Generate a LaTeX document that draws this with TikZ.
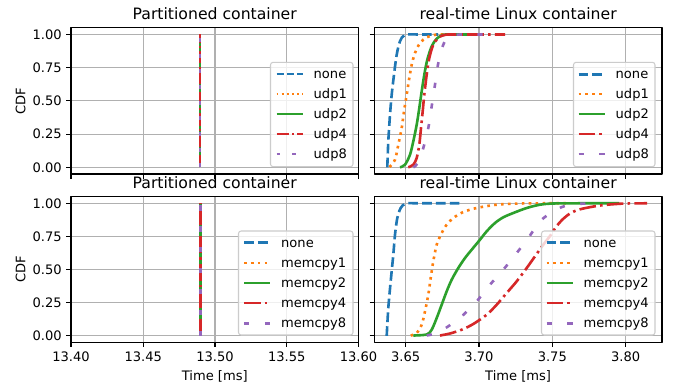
\documentclass[tikz,border=0pt]{standalone}
\usepackage{fontspec}
\setmainfont{DejaVu Sans}
\definecolor{cblue}{HTML}{1F77B4}
\definecolor{corange}{HTML}{FF7F0E}
\definecolor{cgreen}{HTML}{2CA02C}
\definecolor{cred}{HTML}{D62728}
\definecolor{cpurple}{HTML}{9467BD}
\definecolor{gridgray}{HTML}{B0B0B0}
\definecolor{legedge}{HTML}{CCCCCC}
\begin{document}
\begin{tikzpicture}[x=1pt,y=-1pt,line join=round,
  spine/.style={draw=black,line width=1.04pt},
  gridline/.style={draw=gridgray,line width=1.04pt},
  tickmark/.style={draw=black,line width=1.04pt},
  ticklabel/.style={font=\fontsize{13.06}{15}\selectfont,inner sep=0pt},
  axlabel/.style={font=\fontsize{13.06}{15}\selectfont,inner sep=0pt},
  paneltitle/.style={font=\fontsize{15.67}{18}\selectfont,inner sep=0pt,anchor=base},
  legframe/.style={draw=legedge,fill=white,fill opacity=0.8,line width=1.04pt,rounded corners=2.6pt},
  legtext/.style={font=\fontsize{13.06}{15}\selectfont,inner sep=0pt,anchor=base west},
  % thin series (upper left panel)
  nonethin/.style={cblue,line width=1.96pt,dash pattern=on 7.25pt off 3.13pt},
  onethin/.style={corange,line width=1.96pt,dash pattern=on 1.96pt off 3.23pt},
  twothin/.style={cgreen,line width=1.96pt},
  fourthin/.style={cred,line width=1.96pt,dash pattern=on 12.54pt off 3.13pt on 1.96pt off 3.13pt},
  eightthin/.style={cpurple,line width=1.96pt,dash pattern=on 3.92pt off 11.76pt},
  % thick series (other panels)
  nonethick/.style={cblue,line width=2.61pt,dash pattern=on 9.66pt off 4.18pt},
  onethick/.style={corange,line width=2.61pt,dash pattern=on 2.61pt off 4.31pt},
  twothick/.style={cgreen,line width=2.61pt},
  fourthick/.style={cred,line width=2.61pt,dash pattern=on 16.7pt off 4.18pt on 2.61pt off 4.18pt},
  eightthick/.style={cpurple,line width=2.61pt,dash pattern=on 5.22pt off 15.66pt}]

\useasboundingbox (0,0) rectangle (678,385);
\fill[white] (0,0) rectangle (678,385);

% ---------------- grids ----------------
% left column: x = 13.40 ... 13.60
\foreach \gx in {71,143.3,215,286.7,358.5}{
  \draw[gridline] (\gx,27.8) -- (\gx,174);
  \draw[gridline] (\gx,196.7) -- (\gx,342.3);
}
% right column: x = 3.65 ... 3.80
\foreach \gx in {405.7,479,552.3,625.7}{
  \draw[gridline] (\gx,27.8) -- (\gx,174);
  \draw[gridline] (\gx,196.7) -- (\gx,342.3);
}
% CDF levels 0, 0.25, ..., 1
\foreach \f in {0,0.25,0.5,0.75,1}{
  \draw[gridline] (71,{167.3-132.8*\f}) -- (358.5,{167.3-132.8*\f});
  \draw[gridline] (374.3,{167.3-132.8*\f}) -- (662,{167.3-132.8*\f});
  \draw[gridline] (71,{335.9-132.6*\f}) -- (358.5,{335.9-132.6*\f});
  \draw[gridline] (374.3,{335.9-132.6*\f}) -- (662,{335.9-132.6*\f});
}

% ---------------- partitioned container: all series coincide ----------------
\foreach \st in {nonethin,onethin,twothin,fourthin,eightthin}
  \draw[\st] (200.4,167.3) -- (200.4,34.5);
\foreach \st in {nonethick,onethick,twothick,fourthick,eightthick}
  \draw[\st] (200.4,335.9) -- (200.4,203.3);

% ---------------- real-time Linux container, udp load ----------------
\draw[nonethick] plot[smooth,tension=0.5] coordinates {(387.3,167.3) (388.3,141.3) (390,114.7) (391.7,94.7) (394,74.7) (396.7,54.7) (400,41.3) (405,34.9) (420,34.5) (438,34.5)};
\draw[onethick] plot[smooth,tension=0.5] coordinates {(389.5,167) (395,159.7) (398.3,144.7) (401.7,128) (404,111.3) (406.7,94.7) (409.3,78) (411.7,64.7) (415,53) (420,43) (426.7,37.3) (435,34.8) (445,34.5) (458,34.5)};
\draw[twothick] plot[smooth,tension=0.5] coordinates {(400,167.3) (405,164.7) (410,154.7) (413.3,141.3) (416.7,124.7) (419.3,108) (421.7,91.3) (424.3,74.7) (427.3,59.7) (431.7,46.3) (436.7,38.7) (443.3,34.8) (455,34.5) (470,34.5)};
\draw[fourthick] plot[smooth,tension=0.5] coordinates {(408.3,167.3) (413.3,164.7) (416.7,158) (419.3,144.7) (421,128) (422.7,111.3) (424.3,94.7) (426.7,74.7) (429.3,58) (433.3,44.7) (438.3,38) (445,34.8) (460,34.5) (505,34.5)};
\draw[eightthick] plot[smooth,tension=0.5] coordinates {(413.3,167.3) (418,163) (423.3,148) (428.3,128) (431.7,106.3) (435,84.7) (438.3,63) (443.3,44.7) (448.3,36.3) (453.3,34.8) (465,34.5) (483,34.5)};

% ---------------- real-time Linux container, memcpy load ----------------
\draw[nonethick] plot[smooth,tension=0.5] coordinates {(386.7,335.9) (388.3,308) (390.7,281.3) (393.3,254.7) (395,234.7) (397.3,218) (400.7,208) (406,203.5) (420,203.3) (461.7,203.3)};
\draw[onethick] plot[smooth,tension=0.5] coordinates {(410.7,335.5) (416.7,333) (421.7,324.7) (425,311.3) (428.3,294.7) (430.7,278) (433.3,261.3) (436.7,244.7) (441.7,233) (446.7,224.7) (453.3,218) (463.3,212) (476.7,208) (496.7,204.7) (520,203.5) (545,203.3) (570,203.3)};
\draw[twothick] plot[smooth,tension=0.5] coordinates {(413.3,335.5) (426.7,334.5) (431.7,329.7) (436.7,318) (441.7,304.7) (446.7,291.3) (451.7,279.7) (458.3,268) (465,258) (471.7,249.7) (480,239.7) (486.7,231.3) (495,223) (503.3,217.3) (513.3,213) (526.7,208) (540,204.7) (553.3,203.5) (580,203.3) (619,203.3)};
\draw[fourthick] plot[smooth,tension=0.5] coordinates {(440,335.5) (450,333.5) (461.7,329.7) (473.3,324) (486.7,314.7) (496.7,304.7) (506.7,293) (516.7,281.3) (526.7,268) (535,256.3) (543.3,244.7) (550,236) (556,227) (562,220) (570,213.5) (580,209.3) (600,205.5) (623,203.6) (647,203.3)};
\draw[eightthick] plot[smooth,tension=0.5] coordinates {(426.7,335.5) (437,333) (448.3,326.3) (461.7,316.3) (476.7,301.3) (490,284.7) (503.3,269.7) (516.7,253) (528.3,238) (540,221.3) (553.3,211.3) (565,206) (580,203.8) (600,203.3)};

% ---------------- legends ----------------
\draw[legframe] (270.5,62.3) rectangle (353,166.7);
\foreach \st/\lab [count=\i from 0] in {nonethin/none,onethin/udp1,twothin/udp2,fourthin/udp4,eightthin/udp8}{
  \draw[\st] (276.5,{74.2+19.95*\i}) -- (302.5,{74.2+19.95*\i});
  \node[legtext] (legtl\i) at (313.5,{78.6+19.95*\i}) {\lab};
}
\draw[legframe] (573.5,62.3) rectangle (655,166.7);
\foreach \st/\lab [count=\i from 0] in {nonethick/none,onethick/udp1,twothick/udp2,fourthick/udp4,eightthick/udp8}{
  \draw[\st] (578.5,{74.2+19.95*\i}) -- (604.5,{74.2+19.95*\i});
  \node[legtext] (legtr\i) at (615.5,{78.6+19.95*\i}) {\lab};
}
\draw[legframe] (238.5,231) rectangle (353,335);
\foreach \st/\lab [count=\i from 0] in {nonethick/none,onethick/memcpy1,twothick/memcpy2,fourthick/memcpy4,eightthick/memcpy8}{
  \draw[\st] (244,{242.7+20.15*\i}) -- (270,{242.7+20.15*\i});
  \node[legtext] (legbl\i) at (281,{247.1+20.15*\i}) {\lab};
}
\draw[legframe] (541.5,231) rectangle (655,335);
\foreach \st/\lab [count=\i from 0] in {nonethick/none,onethick/memcpy1,twothick/memcpy2,fourthick/memcpy4,eightthick/memcpy8}{
  \draw[\st] (546.5,{242.7+20.15*\i}) -- (572.5,{242.7+20.15*\i});
  \node[legtext] (legbr\i) at (583.5,{247.1+20.15*\i}) {\lab};
}

% ---------------- spines ----------------
\draw[spine] (71,27.8) rectangle (358.5,174);
\draw[spine] (374.3,27.8) rectangle (662,174);
\draw[spine] (71,196.7) rectangle (358.5,342.3);
\draw[spine] (374.3,196.7) rectangle (662,342.3);

% ---------------- ticks ----------------
\foreach \f/\t in {0/0.00,0.25/0.25,0.5/0.50,0.75/0.75,1/1.00}{
  \draw[tickmark] (66.4,{167.3-132.8*\f}) -- (71,{167.3-132.8*\f});
  \draw[tickmark] (369.7,{167.3-132.8*\f}) -- (374.3,{167.3-132.8*\f});
  \draw[tickmark] (66.4,{335.9-132.6*\f}) -- (71,{335.9-132.6*\f});
  \draw[tickmark] (369.7,{335.9-132.6*\f}) -- (374.3,{335.9-132.6*\f});
  \node[ticklabel,anchor=east] (ytop\t) at (61.9,{167.3-132.8*\f}) {\t};
  \node[ticklabel,anchor=east] (ybot\t) at (61.9,{335.9-132.6*\f}) {\t};
}
\foreach \gx/\t in {71/13.40,143.3/13.45,215/13.50,286.7/13.55,358.5/13.60}{
  \draw[tickmark] (\gx,174) -- (\gx,178.6);
  \draw[tickmark] (\gx,342.3) -- (\gx,346.9);
  \node[ticklabel,anchor=north] (xl\t) at (\gx,351.9) {\t};
}
\foreach \gx/\t in {405.7/3.65,479/3.70,552.3/3.75,625.7/3.80}{
  \draw[tickmark] (\gx,174) -- (\gx,178.6);
  \draw[tickmark] (\gx,342.3) -- (\gx,346.9);
  \node[ticklabel,anchor=north] (xr\t) at (\gx,351.9) {\t};
}

% ---------------- labels and titles ----------------
\node[axlabel,rotate=90] (cdftop) at (20.7,101) {CDF};
\node[axlabel,rotate=90] (cdfbot) at (20.7,269.3) {CDF};
\node[axlabel,anchor=base] (timel) at (214.75,380) {Time [ms]};
\node[axlabel,anchor=base] (timer) at (518.15,380) {Time [ms]};
\node[paneltitle] (titletl) at (214.75,20) {Partitioned container};
\node[paneltitle] (titletr) at (518.15,20) {real-time Linux container};
\node[paneltitle] (titlebl) at (214.75,188.6) {Partitioned container};
\node[paneltitle] (titlebr) at (518.15,188.6) {real-time Linux container};
\end{tikzpicture}
\end{document}
